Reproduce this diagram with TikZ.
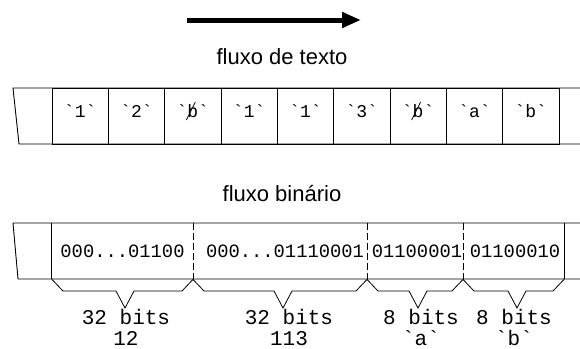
\documentclass[tikz,border=0pt]{standalone}
\usepackage{fontspec}
\setmainfont{Liberation Sans}
\newfontfamily\monof{Liberation Mono}
\usetikzlibrary{arrows.meta}
\tikzset{
  boxline/.style={line width=0.9pt},
  cellbox/.style={draw, line width=0.9pt, minimum width=56.33pt, minimum height=56pt, inner sep=0pt},
  bincell/.style={minimum height=56pt, inner sep=0pt},
  chartxt/.style={font=\monof\fontsize{18}{18}\selectfont, inner sep=0pt},
  bintxt/.style={font=\monof\fontsize{18.8}{18.8}\selectfont, inner sep=0pt},
  caption/.style={font=\fontsize{22}{22}\selectfont, inner sep=0pt},
  sizelbl/.style={font=\monof\fontsize{21}{21}\selectfont, align=center, inner sep=0pt, anchor=north},
  bracket/.style={line width=0.8pt, line join=miter},
  divider/.style={line width=0.9pt, dash pattern=on 7pt off 3pt},
  blankstroke/.style={line width=0.8pt},
}
\newcommand{\gq}{\symbol{96}}
\begin{document}
\begin{tikzpicture}[x=1pt,y=-1pt]
\useasboundingbox (0,0) rectangle (580,348);

% direction of reading
\coordinate (flowstart) at (187,20);
\coordinate (flowend) at (361,20);
\draw[line width=5pt, -{Triangle[length=19pt,width=15pt]}] (flowstart) -- (flowend);

\node[caption] (captext) at (282,57) {fluxo de texto};
\node[caption] (capbin) at (282,193.5) {fluxo binário};

% character stream
\draw[boxline] (580,88) -- (13,88) -- (19,144) -- (580,144);
\foreach \i/\ch in {1/1,2/2,3/b,4/1,5/1,6/3,7/b,8/a,9/b}{
  \node[cellbox] (c\i) at ({52+(\i-0.5)*56.33},116) {};
  \node[chartxt] (t\i) at ([yshift=5pt]c\i.center) {\gq\ch\gq};
}
% slashed b marks the blank character
\foreach \i in {3,7}{
  \draw[blankstroke] ([shift={(-6.5pt,-9pt)}]t\i.center) -- ([shift={(2.5pt,9pt)}]t\i.center);
}

% binary stream
\draw[boxline] (580,223) -- (13,223) -- (18,279) -- (580,279);
\node[bincell, minimum width=141pt] (b1) at (122.5,251) {};
\node[bincell, minimum width=174pt] (b2) at (280,251) {};
\node[bincell, minimum width=96pt] (b3) at (415,251) {};
\node[bincell, minimum width=101pt] (b4) at (513.5,251) {};
\node[bintxt] (v1) at ([yshift=-0.5pt]b1.center) {000...01100};
\node[bintxt] (v2) at ([xshift=5pt,yshift=-0.5pt]b2.center) {000...01110001};
\node[bintxt] (v3) at ([xshift=2pt,yshift=-0.5pt]b3.center) {01100001};
\node[bintxt] (v4) at ([xshift=1.5pt,yshift=-0.5pt]b4.center) {01100010};
\draw[boxline] (b1.north west) -- (b1.south west);
\draw[divider] (b1.north east) -- (b1.south east);
\draw[divider] (b2.north east) -- (b2.south east);
\draw[divider] (b3.north east) -- (b3.south east);
\draw[boxline] (b4.north east) -- (b4.south east);

% size brackets under each field
\draw[bracket] (b1.south west) -- (63,291) -- (116,291) -- (125,308) -- (134,291) -- (182,291) -- (b1.south east);
\draw[bracket] (b2.south west) -- (204,291) -- (274,291) -- (283,308) -- (292,291) -- (356,291) -- (b2.south east);
\draw[bracket] (b3.south west) -- (378,291) -- (409,291) -- (418,308) -- (427,291) -- (452,291) -- (b3.south east);
\draw[bracket] (b4.south west) -- (474,291) -- (508,291) -- (517,308) -- (526,291) -- (553,291) -- (b4.south east);

\node[sizelbl] (s1) at (126,309) {32 bits\\12};
\node[sizelbl] (s2) at (289,309) {32 bits\\113};
\node[sizelbl] (s3) at (421,309) {8 bits\\\gq a\gq};
\node[sizelbl] (s4) at (514,309) {8 bits\\\gq b\gq};
\end{tikzpicture}
\end{document}
